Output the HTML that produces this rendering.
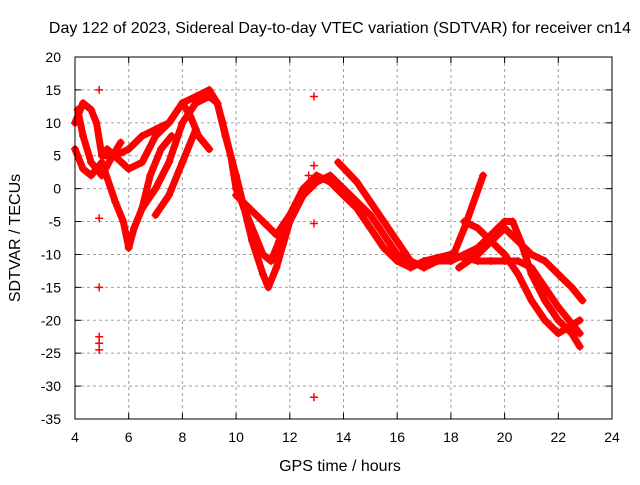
<!DOCTYPE html>
<html><head><meta charset="utf-8"><style>
body{margin:0;background:#fff;}
svg{font-family:"Liberation Sans",sans-serif;font-size:14px;}
</style></head><body>
<svg id="chart" width="640" height="480" xmlns="http://www.w3.org/2000/svg">
<text x="340" y="33" text-anchor="middle" style="font-size:16px">Day 122 of 2023, Sidereal Day-to-day VTEC variation (SDTVAR) for receiver cn14</text>
<text x="340" y="471" text-anchor="middle" style="font-size:16px">GPS time / hours</text>
<text transform="translate(20,238) rotate(-90)" text-anchor="middle" style="font-size:16px">SDTVAR / TECUs</text>
<g id="grid"></g>
<g id="ticks"></g>
<g id="marks"></g>
<rect x="75" y="57" width="537" height="362" fill="none" stroke="#000" stroke-width="1"/>
</svg>
<script>
const xTicks=[4,6,8,10,12,14,16,18,20,22,24];
const yTicks=[20,15,10,5,0,-5,-10,-15,-20,-25,-30,-35];
const seriesA=[[4.0,10],[4.3,13],[4.6,12],[4.8,10],[5.0,5],[5.5,5],[6.0,6],[6.5,8],[7,9],[7.5,10],[8,13],[8.5,14],[9,15],[9.3,13],[9.6,8],[10,2],[10.3,-3],[10.6,-8],[11,-13],[11.2,-15],[11.5,-12],[12,-5],[12.5,-1],[13,1],[13.5,2],[14,0],[14.5,-2],[15,-4],[15.5,-7],[16,-10],[16.5,-11],[17,-12],[17.5,-11],[18,-11],[18.5,-10],[19,-9],[19.5,-7],[20,-5],[20.3,-5],[20.6,-8],[21,-13],[21.5,-17],[22,-20],[22.5,-22],[22.8,-24]];
const seriesB=[[4.0,6],[4.3,3],[4.6,2],[5,4],[5.5,-2],[5.8,-5],[6.0,-9],[6.2,-6],[6.5,-3],[7,0],[7.5,4],[8,10],[8.5,13],[9,14],[9.3,13],[9.5,10],[9.8,5],[10,0],[10.5,-5],[11,-10],[11.3,-11],[11.6,-8],[12,-4],[12.5,0],[13,2],[13.5,1],[14,-1],[14.5,-3],[15,-6],[15.5,-9],[16,-11],[16.5,-12],[17,-11],[17.5,-10.5],[18,-10]];
const seriesC=[[5.2,6],[6,3],[6.5,4],[7,8],[7.5,10],[8,13],[8.3,11],[8.6,8],[9,6]];
const seriesD=[[10,-1],[10.5,-3],[11,-5],[11.5,-7],[12,-4]];
const seriesE=[[13.8,4],[14.5,1],[15,-2],[15.5,-5],[16,-8],[16.5,-11],[17,-12]];
const seriesF=[[18.3,-12],[19,-10],[19.5,-8],[20,-6],[20.5,-8],[21,-10],[21.5,-11],[22,-13],[22.5,-15],[22.9,-17]];
const seriesG=[[18,-10],[19,-11],[19.5,-11],[20,-11],[20.5,-11],[21,-12],[21.5,-15],[22,-18],[22.8,-22]];
const seriesH=[[20,-10],[20.5,-13],[21,-17],[21.5,-20],[22,-22],[22.8,-20]];
const seriesI=[[18,-11],[18.5,-6],[19.2,2]];
const seriesJ=[[18.5,-5],[19,-6],[19.5,-8],[20,-10]];
const seriesK=[[6.5,-3],[6.8,2],[7.2,6],[7.6,8]];
const seriesL=[[7.0,-4],[7.5,-1],[8,4],[8.5,9]];
const seriesM=[[4.1,12],[4.3,8],[4.6,4],[5,2],[5.4,5],[5.7,7]];
const outliers=[[4.9,15],[4.9,-4.5],[4.9,-15],[4.9,-22.5],[4.9,-23.5],[4.9,-24.5],[12.9,14],[12.9,-5.3],[12.9,-31.7],[12.9,3.5],[12.7,2]];
const allSeries=[seriesA,seriesB,seriesC,seriesD,seriesE,seriesF,seriesG,seriesH,seriesI,seriesJ,seriesK,seriesL,seriesM];

const X0=75,X1=612,Y0=57,Y1=419;
const xs=v=>X0+(v-4)/(24-4)*(X1-X0);
const ys=v=>Y0+(20-v)/(20-(-35))*(Y1-Y0);
const NS="http://www.w3.org/2000/svg";
const grid=document.getElementById('grid'),ticks=document.getElementById('ticks'),marks=document.getElementById('marks');
function mk(tag,attrs,parent){const e=document.createElementNS(NS,tag);for(const k in attrs)e.setAttribute(k,attrs[k]);parent.appendChild(e);return e;}
xTicks.forEach(t=>{
  const x=xs(t);
  if(t>4&&t<24){const g=mk('line',{x1:x,x2:x,y1:Y0,y2:Y1,stroke:'#a0a0a0','stroke-dasharray':'3,3'},grid);
  
  }
  mk('line',{x1:x,x2:x,y1:Y1,y2:Y1-6,stroke:'#000'},ticks);
  mk('line',{x1:x,x2:x,y1:Y0,y2:Y0+6,stroke:'#000'},ticks);
  const tx=mk('text',{x:x,y:Y1+23,'text-anchor':'middle'},ticks);tx.textContent=t;
  
  
});
yTicks.forEach(t=>{
  const y=ys(t);
  if(t<20&&t>-35){const g=mk('line',{x1:X0,x2:X1,y1:y,y2:y,stroke:'#a0a0a0','stroke-dasharray':'3,3'},grid);
  
  }
  mk('line',{x1:X0,x2:X0+6,y1:y,y2:y,stroke:'#000'},ticks);
  mk('line',{x1:X1,x2:X1-6,y1:y,y2:y,stroke:'#000'},ticks);
  const tx=mk('text',{x:X0-14,y:y+5,'text-anchor':'end'},ticks);tx.textContent=t;
  
  
});
function plus(x,y){mk('path',{d:`M${x-4},${y}h8M${x},${y-4}v8`,stroke:'#f00','stroke-width':1.5},marks);}
allSeries.forEach((s,i)=>{
  const p=mk('polyline',{points:s.map(d=>xs(d[0])+','+ys(d[1])).join(' '),fill:'none',stroke:'#f00','stroke-width':7,'stroke-linejoin':'round','stroke-linecap':'round'},marks);
  
  
  s.forEach(d=>plus(xs(d[0]),ys(d[1])));
});
outliers.forEach(d=>plus(xs(d[0]),ys(d[1])));
</script>
</body></html>
